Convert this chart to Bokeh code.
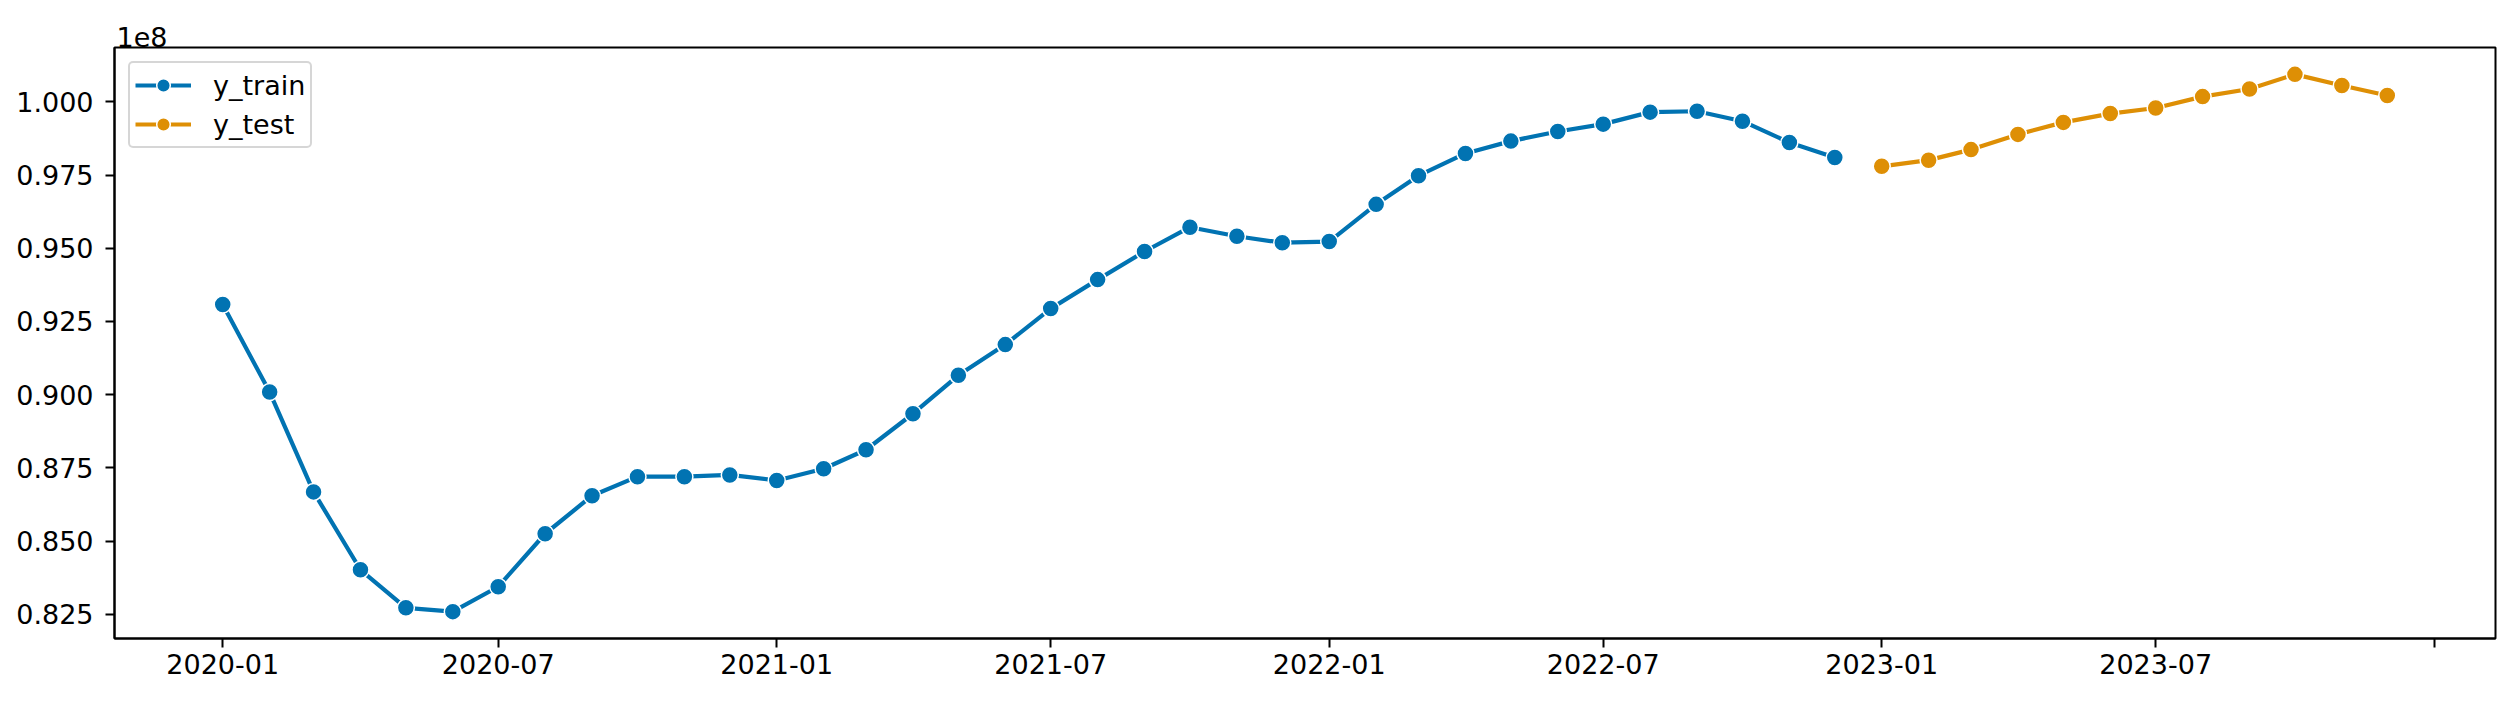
import pandas as pd
from bokeh.plotting import figure
from bokeh.models import (FixedTicker, CustomJSTickFormatter, Legend, LegendItem, Range1d)
from bokeh.embed import file_html
from bokeh.resources import INLINE

# ---- data ----
train_dates = pd.date_range("2020-01-01", periods=36, freq="MS")
train_values = [93080000, 90090000, 86680000, 84020000, 82720000, 82590000,
                83440000, 85250000, 86550000, 87200000, 87200000, 87260000,
                87070000, 87470000, 88120000, 89350000, 90660000, 91710000,
                92940000, 93930000, 94890000, 95720000, 95410000, 95190000,
                95230000, 96500000, 97480000, 98240000, 98660000, 98990000,
                99240000, 99650000, 99680000, 99340000, 98610000, 98100000]
test_dates = pd.date_range("2023-01-01", periods=12, freq="MS")
test_values = [97800000, 98010000, 98370000, 98890000, 99300000, 99600000,
               99790000, 100180000, 100440000, 100940000, 100560000, 100220000]

xtick_dates = ["2020-01-01", "2020-07-01", "2021-01-01", "2021-07-01", "2022-01-01",
               "2022-07-01", "2023-01-01", "2023-07-01", "2024-01-01"]
xtick_labels = ["2020-01", "2020-07", "2021-01", "2021-07", "2022-01",
                "2022-07", "2023-01", "2023-07", ""]
ytick_values = [82500000, 85000000, 87500000, 90000000, 92500000, 95000000, 97500000, 100000000]
ytick_labels = ["0.825", "0.850", "0.875", "0.900", "0.925", "0.950", "0.975", "1.000"]

BLUE = "#0173b2"
ORANGE = "#de8f05"
FONT = "DejaVu Sans"
FS = "27px"

def ms(t):
    return pd.Timestamp(t).value / 1e6

# ranges with matplotlib-like 5% margins
x0 = ms(train_dates[0]); x1 = ms(test_dates[-1])
xpad = 0.05 * (x1 - x0)
allv = train_values + test_values
y0 = min(allv); y1 = max(allv)
ypad = 0.05 * (y1 - y0)

p = figure(frame_width=2381, frame_height=591, x_axis_type="datetime",
           output_backend="svg", toolbar_location=None,
           min_border_left=114, min_border_right=3, min_border_top=47, min_border_bottom=48,
           x_range=Range1d(x0 - xpad, x1 + xpad), y_range=Range1d(y0 - ypad, y1 + ypad))

p.title.text = "1e8"
p.title.align = "left"
p.title.offset = 2
p.title.standoff = 2
p.title.text_font = FONT
p.title.text_font_size = FS
p.title.text_font_style = "normal"
p.title.text_color = "black"

l1 = p.line(train_dates, train_values, line_width=4.2, line_color=BLUE)
s1 = p.scatter(train_dates, train_values, size=17, fill_color=BLUE, line_color="white", line_width=1.5)
l2 = p.line(test_dates, test_values, line_width=4.2, line_color=ORANGE)
s2 = p.scatter(test_dates, test_values, size=17, fill_color=ORANGE, line_color="white", line_width=1.5)

JS = """
let b = 0;
for (let i = 0; i < tk.length; i++) { if (Math.abs(tk[i]-tick) < Math.abs(tk[b]-tick)) b = i; }
return lb[b];
"""

xt = [ms(d) for d in xtick_dates]
p.xaxis.ticker = FixedTicker(ticks=xt)
p.xaxis.formatter = CustomJSTickFormatter(args=dict(tk=xt, lb=xtick_labels), code=JS)
p.yaxis.ticker = FixedTicker(ticks=ytick_values)
p.yaxis.formatter = CustomJSTickFormatter(args=dict(tk=ytick_values, lb=ytick_labels), code=JS)

for ax in (p.xaxis, p.yaxis):
    ax.axis_line_width = 2
    ax.axis_line_color = "black"
    ax.major_tick_line_width = 2
    ax.major_tick_line_color = "black"
    ax.major_tick_out = 9
    ax.major_tick_in = 0
    ax.minor_tick_out = 0
    ax.minor_tick_in = 0
    ax.major_label_text_font = FONT
    ax.major_label_text_font_size = FS
    ax.major_label_text_color = "black"
p.xaxis.major_label_standoff = 6
p.yaxis.major_label_standoff = 12

p.grid.visible = False
p.outline_line_color = "black"
p.outline_line_width = 2
p.outline_line_alpha = 1

legend = Legend(items=[LegendItem(label="y_train", renderers=[l1, s1]),
                       LegendItem(label="y_test", renderers=[l2, s2])],
                location="top_left")
legend.label_text_font = FONT
legend.label_text_font_size = FS
legend.label_text_color = "black"
legend.glyph_width = 56
legend.glyph_height = 34
legend.label_height = 34
legend.label_standoff = 22
legend.padding = 5
legend.spacing = 5
legend.margin = 14
legend.border_line_color = "#cccccc"
legend.border_line_alpha = 0.8
legend.border_line_width = 2
legend.border_radius = 5
legend.background_fill_alpha = 0.8
p.add_layout(legend)

open("out.html", "w").write(file_html(p, INLINE))
